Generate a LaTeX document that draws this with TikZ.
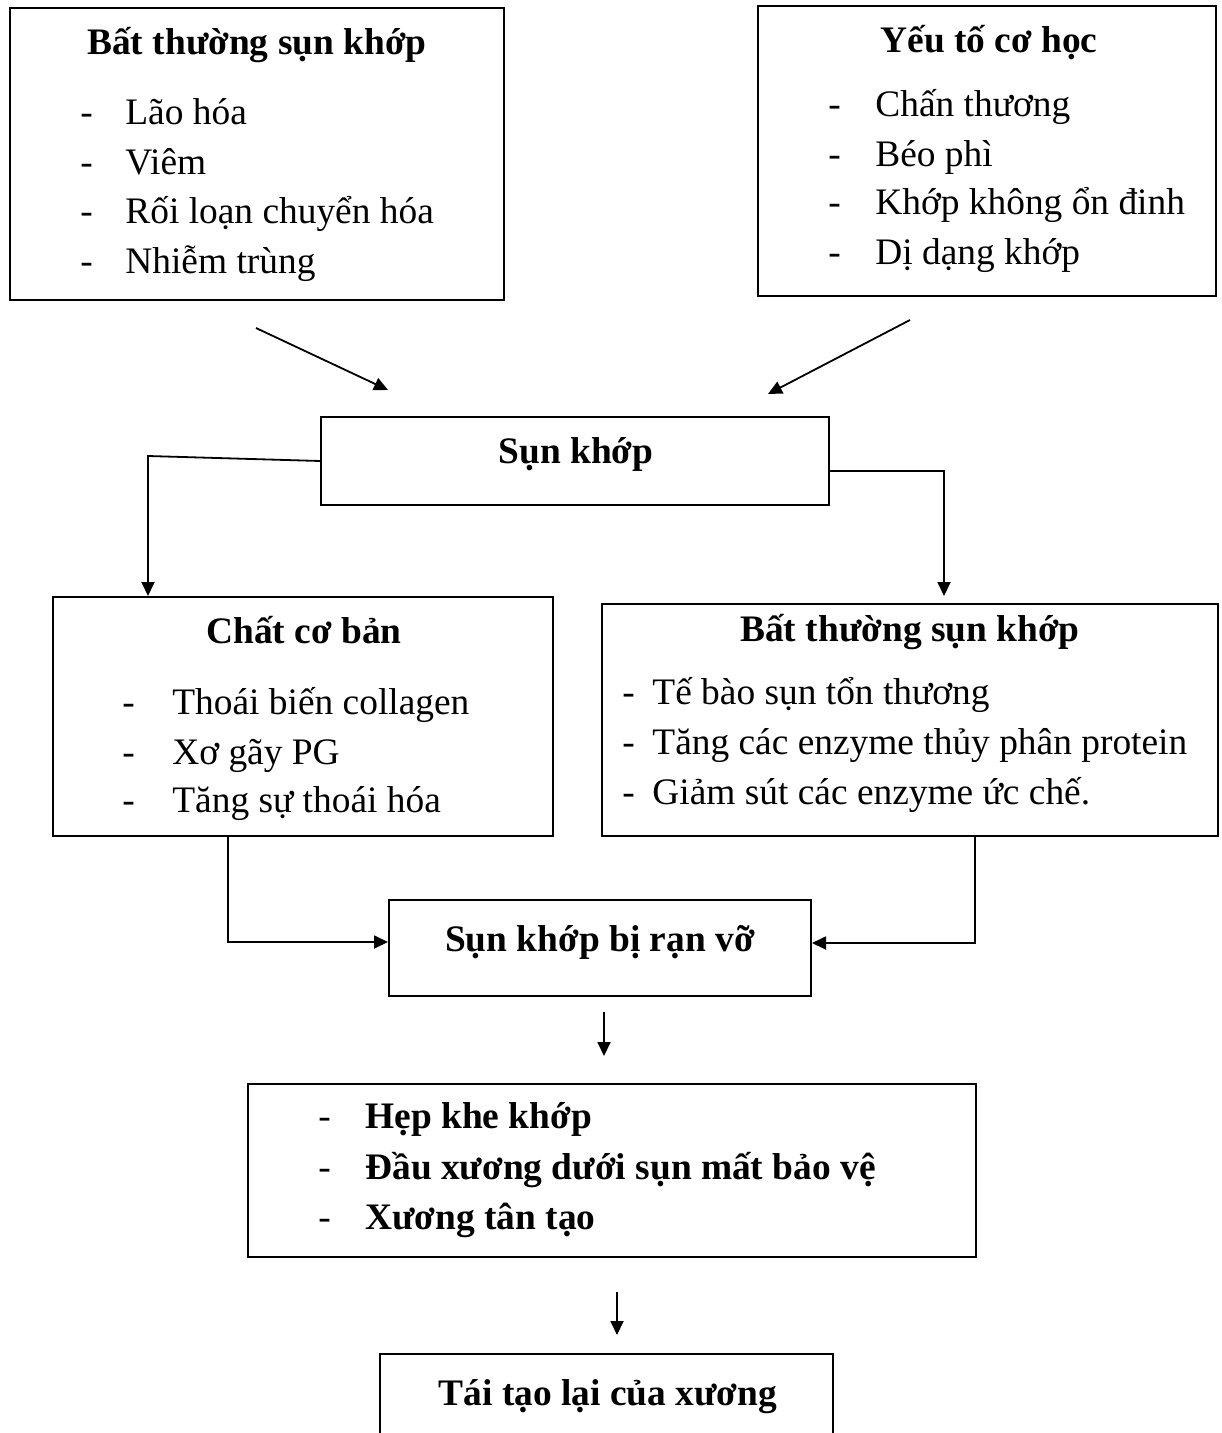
\documentclass[tikz,border=0pt]{standalone}
\usepackage{fontspec}
\setmainfont{Liberation Serif}
\usetikzlibrary{arrows.meta}
\newcommand{\dashto}[1]{\makebox[#1][l]{-}}
\tikzset{
  box/.style={draw, line width=1pt, inner sep=0pt},
  ttl/.style={anchor=base, inner sep=0pt, font=\bfseries},
  itm/.style={anchor=base west, inner sep=0pt},
  arr/.style={line width=0.9pt, -{Triangle[length=7pt,width=6.5pt]}}
}
\begin{document}
\fontsize{18.7}{22}\selectfont
\begin{tikzpicture}[x=0.5pt, y=-0.5pt]
\clip (0,0) rectangle (1221,1433);

% boxes
\node[box, minimum width=247pt, minimum height=146pt] (lt) at (257,154) {};
\node[box, minimum width=229pt, minimum height=145pt] (rt) at (987,151) {};
\node[box, minimum width=254pt, minimum height=44pt] (sun) at (575,461) {};
\node[box, minimum width=250pt, minimum height=119.5pt] (chat) at (303,716.5) {};
\node[box, minimum width=308pt, minimum height=116pt] (bat) at (910,720) {};
\node[box, minimum width=211pt, minimum height=48pt] (ranvo) at (600,948) {};
\node[box, minimum width=364pt, minimum height=86.5pt] (hep) at (612,1170.5) {};
\node[box, minimum width=226.5pt, minimum height=60pt] (taitao) at (606.5,1414) {};

% top left
\node[ttl] (lt0) at (257,55) {Bất thường sụn khớp};
\node[itm] (lt1) at (80,125) {\dashto{22.5pt}Lão hóa};
\node[itm] (lt2) at (80,175) {\dashto{22.5pt}Viêm};
\node[itm] (lt3) at (80,224) {\dashto{22.5pt}Rối loạn chuyển hóa};
\node[itm] (lt4) at (80,274) {\dashto{22.5pt}Nhiễm trùng};

% top right
\node[ttl] (rt0) at (989,53) {Yếu tố cơ học};
\node[itm] (rt1) at (828,117) {\dashto{23.5pt}Chấn thương};
\node[itm] (rt2) at (828,167) {\dashto{23.5pt}Béo phì};
\node[itm] (rt3) at (828,215) {\dashto{23.5pt}Khớp không ổn đinh};
\node[itm] (rt4) at (828,265) {\dashto{23.5pt}Dị dạng khớp};

\node[ttl] (sun0) at (576,463) {Sụn khớp};

% middle
\node[ttl] (chat0) at (304,643) {Chất cơ bản};
\node[itm] (chat1) at (122,714) {\dashto{25pt}Thoái biến collagen};
\node[itm] (chat2) at (122,764) {\dashto{25pt}Xơ gãy PG};
\node[itm] (chat3) at (122,812) {\dashto{25pt}Tăng sự thoái hóa};

\node[ttl] (bat0) at (910,641) {Bất thường sụn khớp};
\node[itm] (bat1) at (622,704) {\dashto{15pt}Tế bào sụn tổn thương};
\node[itm] (bat2) at (622,754) {\dashto{15pt}Tăng các enzyme thủy phân protein};
\node[itm] (bat3) at (622,804) {\dashto{15pt}Giảm sút các enzyme ức chế.};

\node[ttl] (ranvo0) at (600,951) {Sụn khớp bị rạn vỡ};

\node[itm] (hep1) at (318,1128) {\dashto{23.5pt}\textbf{Hẹp khe khớp}};
\node[itm] (hep2) at (318,1179) {\dashto{23.5pt}\textbf{Đầu xương dưới sụn mất bảo vệ}};
\node[itm] (hep3) at (318,1229) {\dashto{23.5pt}\textbf{Xương tân tạo}};

\node[ttl] (taitao0) at (608,1405) {Tái tạo lại của xương};

% connectors
\coordinate (a1) at (256,328);
\coordinate (a2) at (388,390);
\coordinate (b1) at (910,320);
\coordinate (b2) at (768,394);
\draw[arr] (a1) -- (a2);
\draw[arr] (b1) -- (b2);

\coordinate (lk) at (148,456);
\coordinate (rk) at (944,471);
\draw[arr] (sun.west) -- (lk) -- (lk |- chat.north);
\draw[arr] (sun.east |- rk) -- (rk) -- (rk |- chat.north);

\coordinate (lb) at (228,942);
\coordinate (rb) at (975,943);
\draw[arr] (lb |- chat.south) -- (lb) -- (ranvo.west |- lb);
\draw[arr] (rb |- bat.south) -- (rb) -- (ranvo.east |- rb);

\coordinate (c1) at (604,1012);
\coordinate (c2) at (604,1056);
\coordinate (d1) at (617,1292);
\coordinate (d2) at (617,1335);
\draw[arr] (c1) -- (c2);
\draw[arr] (d1) -- (d2);

\end{tikzpicture}
\end{document}
